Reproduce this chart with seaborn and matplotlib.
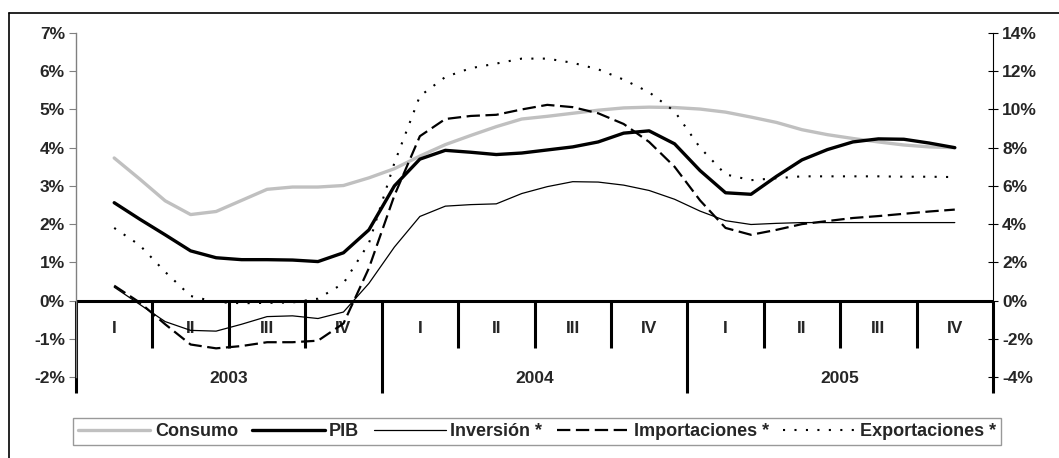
import numpy as np
import matplotlib
matplotlib.use("Agg")
import matplotlib.pyplot as plt
import seaborn as sns
from matplotlib.lines import Line2D

# quarters and years of the category axis
trimestres = ["I", "II", "III", "IV"] * 3
anios = ["2003", "2004", "2005"]

# position of each point, in quarters from the start of 2003 (three per quarter)
periodo = 0.5 + np.arange(34) / 3

# left axis (%)
consumo = [3.73, 3.18, 2.61, 2.25, 2.33, 2.62, 2.91, 2.97, 2.97, 3.01, 3.21, 3.45,
           3.78, 4.08, 4.32, 4.55, 4.75, 4.82, 4.90, 4.98, 5.04, 5.06, 5.05, 5.01,
           4.93, 4.80, 4.66, 4.47, 4.34, 4.24, 4.15, 4.07, 4.02, 4.00]
pib = [2.56, 2.13, 1.72, 1.30, 1.12, 1.07, 1.07, 1.06, 1.02, 1.25, 1.85, 3.00,
       3.70, 3.93, 3.88, 3.82, 3.86, 3.94, 4.02, 4.15, 4.38, 4.44, 4.10, 3.40,
       2.82, 2.78, 3.25, 3.68, 3.95, 4.15, 4.23, 4.22, 4.12, 4.00]

# right axis (%)  (*)
inversion = [0.7, -0.2, -1.1, -1.56, -1.6, -1.24, -0.84, -0.8, -0.94, -0.6, 0.9, 2.8,
             4.4, 4.94, 5.02, 5.06, 5.6, 5.96, 6.22, 6.2, 6.04, 5.76, 5.3, 4.68,
             4.18, 3.98, 4.04, 4.08, 4.08, 4.08, 4.08, 4.08, 4.08, 4.08]
importaciones = [0.78, -0.1, -1.24, -2.3, -2.5, -2.38, -2.18, -2.18, -2.1, -1.2, 1.7, 5.5,
                 8.6, 9.5, 9.66, 9.72, 10.0, 10.24, 10.12, 9.8, 9.24, 8.3, 7.0, 5.24,
                 3.8, 3.44, 3.7, 4.0, 4.16, 4.32, 4.42, 4.54, 4.66, 4.76]
exportaciones = [3.8, 2.9, 1.5, 0.24, -0.08, -0.14, -0.12, -0.1, 0.1, 0.9, 3.0, 7.2,
                 10.7, 11.7, 12.16, 12.4, 12.66, 12.66, 12.44, 12.1, 11.56, 10.9, 9.9, 8.0,
                 6.6, 6.3, 6.4, 6.5, 6.5, 6.5, 6.5, 6.48, 6.48, 6.46]

sns.set_style("white")
plt.rcParams['font.family'] = ['Liberation Sans', 'DejaVu Sans']
plt.rcParams['font.weight'] = 'bold'

fig = plt.figure(figsize=(10.59, 4.58), dpi=100)
ax = fig.add_axes([76 / 1059, 1 - 377 / 458, (993 - 76) / 1059, (377 - 33) / 458])
ax2 = ax.twinx()

sns.lineplot(x=periodo, y=consumo, ax=ax, color="#c0c0c0", linewidth=2.4, label="Consumo")
sns.lineplot(x=periodo, y=pib, ax=ax, color="black", linewidth=2.4, label="PIB")
sns.lineplot(x=periodo, y=inversion, ax=ax2, color="black", linewidth=0.9, label="Inversión *")
sns.lineplot(x=periodo, y=importaciones, ax=ax2, color="black", linewidth=1.6,
             linestyle=(0, (6, 2.5)), label="Importaciones *")
sns.lineplot(x=periodo, y=exportaciones, ax=ax2, color="black", linewidth=1.5,
             linestyle=(0, (1, 4.5)), label="Exportaciones *")

for a in (ax, ax2):
    if a.get_legend() is not None:
        a.get_legend().remove()

ax.set_xlim(0, 12)
ax.set_ylim(-2, 7)
ax2.set_ylim(-4, 14)

fs = 12.5
ax.set_yticks(range(-2, 8))
ax.set_yticklabels([f"{v}%" for v in range(-2, 8)], fontsize=fs, fontweight='bold')
ax2.set_yticks(range(-4, 15, 2))
ax2.set_yticklabels([f"{v}%" for v in range(-4, 15, 2)], fontsize=fs, fontweight='bold')
ax.set_xticks([])

for a in (ax, ax2):
    for s in a.spines.values():
        s.set_visible(False)
ax.spines['left'].set_visible(True)
ax.spines['left'].set_color("#808080")
ax.spines['left'].set_linewidth(1)
ax2.spines['right'].set_visible(True)
ax2.spines['right'].set_color("black")
ax2.spines['right'].set_linewidth(0.8)
ax.tick_params(axis='y', direction='out', length=5, width=0.8, color="#808080", pad=3, left=True)
ax2.tick_params(axis='y', direction='inout', length=7, width=0.8, color="black", pad=3, right=True)

# category axis at zero
ax.axhline(0, color="black", linewidth=2.2, zorder=1)
for q in range(13):
    if q % 4 == 0:
        ax.plot([q, q], [0, -2.43], color="black", linewidth=2.2, clip_on=False, zorder=1,
                solid_capstyle='butt')
    else:
        ax.plot([q, q], [0, -1.23], color="black", linewidth=2.2, clip_on=False, zorder=1,
                solid_capstyle='butt')
for i, t in enumerate(trimestres):
    ax.text(i + 0.5, -0.73, t, ha="center", va="center", fontsize=fs, fontweight='bold')
for i, t in enumerate(anios):
    ax.text(4 * i + 2, -2.04, t, ha="center", va="center", fontsize=fs, fontweight='bold',
            clip_on=False)

# legend
handles = ax.get_lines()[:2] + ax2.get_lines()[:3]
labels = ["Consumo", "PIB", "Inversión *", "Importaciones *", "Exportaciones *"]
leg = fig.legend(handles, labels, loc="center", bbox_to_anchor=(537 / 1059, 1 - 431.5 / 458),
                 ncol=5, frameon=True, fancybox=False, handlelength=4.0, handletextpad=0.25,
                 columnspacing=0.8, borderpad=0.3, borderaxespad=0,
                 prop={'size': 13, 'weight': 'bold'})
leg.get_frame().set_edgecolor("#808080")
leg.get_frame().set_linewidth(1)

# chart border
fig.add_artist(Line2D([9 / 1059, 1], [1 - 13 / 458, 1 - 13 / 458], color="black", linewidth=1.2))
fig.add_artist(Line2D([9 / 1059, 9 / 1059], [0, 1 - 13 / 458], color="black", linewidth=1.2))

fig.savefig("out.png", dpi=100)
